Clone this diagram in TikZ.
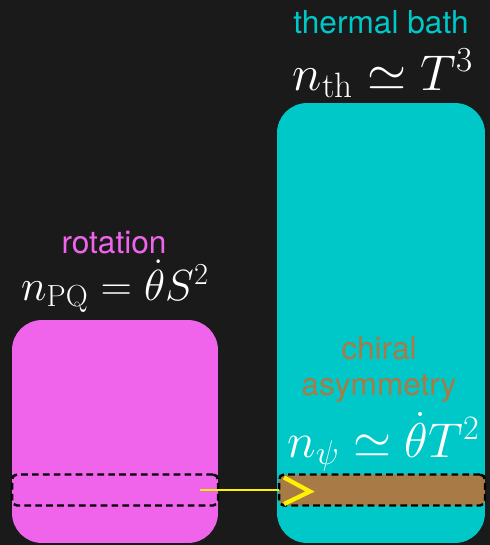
\documentclass[tikz,border=0pt]{standalone}
\usepackage{fix-cm}
\usepackage{amsmath}
\usepackage{fontspec}
\setsansfont{TeX Gyre Heros}
\usetikzlibrary{calc}
\definecolor{pqmagenta}{RGB}{240,100,236}
\definecolor{bathcyan}{RGB}{0,200,200}
\definecolor{chiralbrown}{RGB}{168,122,69}
\definecolor{boardgray}{RGB}{26,26,26}
\tikzset{
 cp box/.style={rounded corners=0.6cm,inner sep=0pt,outer sep=0pt},
 cp band/.style={draw=black,line width=1.4pt,dash pattern=on 3.8pt off 2.4pt,
                 rounded corners=0.1cm,minimum width=4.12cm,minimum height=0.62cm,
                 inner sep=0pt,outer sep=0pt},
 cp label/.style={font=\sffamily\fontsize{18}{20}\selectfont,anchor=base,
                  inner sep=0pt,align=center},
 cp formula/.style={text=white,font=\fontsize{24.8}{29}\selectfont,anchor=base,
                    inner sep=0pt},
 cp flow/.style={draw=yellow,line width=1.7pt}
}
\begin{document}
\begin{tikzpicture}[x=0.02cm,y=-0.02cm]
 \fill[boardgray] (0,0) rectangle (490,545);
 \useasboundingbox (0,0) rectangle (490,545);
 \node[cp box,fill=pqmagenta,minimum width=4.12cm,minimum height=4.46cm]
   (pq box) at (115,431.5) {};
 \node[cp box,fill=bathcyan,minimum width=4.16cm,minimum height=8.8cm]
   (bath box) at (381,323) {};
 \node[cp band] (pq band) at (115,490) {};
 \node[cp band,fill=chiralbrown] (chiral strip) at (382,490) {};
 \node[cp label,text=bathcyan] (bath label) at (381,33) {thermal bath};
 \node[cp formula,font=\fontsize{28.6}{32}\selectfont]
   (bath formula) at (383,90) {$n_{\mathrm{th}}\simeq T^3$};
 \node[cp label,text=pqmagenta] (pq label) at (114,253) {rotation};
 \node[cp formula] (pq formula) at (115,300) {$n_{\mathrm{PQ}}=\dot{\theta}S^2$};
 \node[cp label,text=chiralbrown] (chiral label) at (379,395) {chiral\\asymmetry};
 \node[cp formula,font=\fontsize{27.8}{32}\selectfont]
   (chiral formula) at (383.5,457) {$n_{\psi}\simeq\dot{\theta}T^2$};
 \coordinate (flow start) at (200,490);
 \draw[cp flow] (flow start) -- (chiral strip.west);
 \draw[cp flow,line width=2.4pt,line join=miter]
   ($(chiral strip.west)+(5,-12.5)$) -- ($(chiral strip.west)+(31,1.5)$)
   -- ($(chiral strip.west)+(5,14)$);
\end{tikzpicture}
\end{document}
